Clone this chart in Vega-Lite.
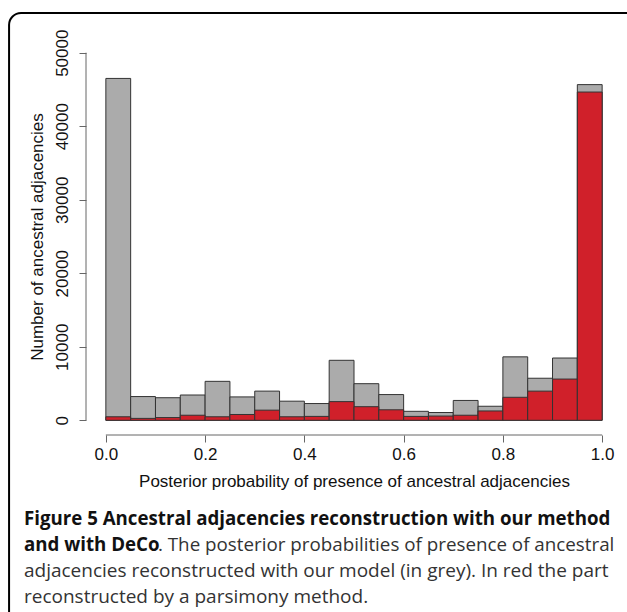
{
  "$schema": "https://vega.github.io/schema/vega-lite/v6.json",
  "autosize": "none",
  "padding": {"left": 86, "top": 38, "right": 5, "bottom": 177},
  "width": 536,
  "height": 397,
  "background": "white",
  "config": {
    "view": {"stroke": null},
    "axis": {
      "grid": false,
      "domain": false,
      "tickColor": "#666666",
      "tickSize": 7,
      "labelFont": "Liberation Sans",
      "labelFontSize": 17,
      "labelColor": "#111111",
      "titleFont": "Liberation Sans",
      "titleFontSize": 17,
      "titleFontWeight": "normal",
      "titleColor": "#111111"
    }
  },
  "datasets": {
    "bins": [
      {"start": 0.00, "end": 0.05, "total": 46500, "parsimony": 480},
      {"start": 0.05, "end": 0.10, "total": 3230, "parsimony": 260},
      {"start": 0.10, "end": 0.15, "total": 3070, "parsimony": 370},
      {"start": 0.15, "end": 0.20, "total": 3440, "parsimony": 690},
      {"start": 0.20, "end": 0.25, "total": 5300, "parsimony": 480},
      {"start": 0.25, "end": 0.30, "total": 3180, "parsimony": 790},
      {"start": 0.30, "end": 0.35, "total": 3970, "parsimony": 1380},
      {"start": 0.35, "end": 0.40, "total": 2600, "parsimony": 480},
      {"start": 0.40, "end": 0.45, "total": 2280, "parsimony": 530},
      {"start": 0.45, "end": 0.50, "total": 8160, "parsimony": 2540},
      {"start": 0.50, "end": 0.55, "total": 4980, "parsimony": 1850},
      {"start": 0.55, "end": 0.60, "total": 3500, "parsimony": 1430},
      {"start": 0.60, "end": 0.65, "total": 1220, "parsimony": 530},
      {"start": 0.65, "end": 0.70, "total": 1060, "parsimony": 580},
      {"start": 0.70, "end": 0.75, "total": 2700, "parsimony": 690},
      {"start": 0.75, "end": 0.80, "total": 1910, "parsimony": 1270},
      {"start": 0.80, "end": 0.85, "total": 8630, "parsimony": 3130},
      {"start": 0.85, "end": 0.90, "total": 5720, "parsimony": 3970},
      {"start": 0.90, "end": 0.95, "total": 8470, "parsimony": 5610},
      {"start": 0.95, "end": 1.00, "total": 45660, "parsimony": 44650}
    ]
  },
  "layer": [
    {
      "data": {"name": "bins"},
      "mark": {"type": "bar", "fill": "#ababab", "stroke": "#333333", "strokeWidth": 1},
      "encoding": {
        "x": {
          "field": "start", "type": "quantitative",
          "scale": {"domain": [-0.04, 1.04], "nice": false, "zero": false},
          "axis": {
            "values": [0, 0.2, 0.4, 0.6, 0.8, 1.0],
            "format": ".1f",
            "labelPadding": 4,
            "title": "Posterior probability of presence of ancestral adjacencies",
            "titlePadding": 11
          }
        },
        "x2": {"field": "end"},
        "y": {
          "field": "total", "type": "quantitative",
          "scale": {"domain": [-2000, 52000], "nice": false, "zero": false},
          "axis": {
            "values": [0, 10000, 20000, 30000, 40000, 50000],
            "format": "d",
            "labelAngle": -90,
            "labelAlign": "center",
            "labelBaseline": "bottom",
            "labelPadding": 8,
            "title": "Number of ancestral adjacencies",
            "titlePadding": 7
          }
        },
        "y2": {"datum": 0}
      }
    },
    {
      "data": {"name": "bins"},
      "mark": {"type": "bar", "fill": "#d0202a", "stroke": "#333333", "strokeWidth": 1},
      "encoding": {
        "x": {"field": "start", "type": "quantitative"},
        "x2": {"field": "end"},
        "y": {"field": "parsimony", "type": "quantitative"},
        "y2": {"datum": 0}
      }
    },
    {
      "data": {"values": [{"axis": "x"}]},
      "mark": {"type": "rule", "color": "#666666", "strokeWidth": 1},
      "encoding": {
        "x": {"datum": 0},
        "x2": {"datum": 1},
        "y": {"datum": -2000}
      }
    },
    {
      "data": {"values": [{"axis": "y"}]},
      "mark": {"type": "rule", "color": "#666666", "strokeWidth": 1},
      "encoding": {
        "x": {"datum": -0.04},
        "y": {"datum": 0},
        "y2": {"datum": 50000}
      }
    },
    {
      "data": {"values": [{"text": "Figure 5 Ancestral adjacencies reconstruction with our method\nand with DeCo"}]},
      "mark": {"type": "text", "align": "left", "baseline": "alphabetic", "font": "Open Sans", "fontSize": 18.7, "fontWeight": "bold", "color": "#111111", "lineBreak": "\n", "lineHeight": 26},
      "encoding": {
        "x": {"datum": -0.165},
        "y": {"datum": -14250},
        "text": {"field": "text"}
      }
    },
    {
      "data": {"values": [{"text": ". The posterior probabilities of presence of ancestral"}]},
      "mark": {"type": "text", "align": "left", "baseline": "alphabetic", "font": "Open Sans", "fontSize": 18.8, "color": "#333333", "dx": 134},
      "encoding": {
        "x": {"datum": -0.165},
        "y": {"datum": -17800},
        "text": {"field": "text"}
      }
    },
    {
      "data": {"values": [{"text": "adjacencies reconstructed with our model (in grey). In red the part\nreconstructed by a parsimony method."}]},
      "mark": {"type": "text", "align": "left", "baseline": "alphabetic", "font": "Open Sans", "fontSize": 19, "color": "#333333", "lineBreak": "\n", "lineHeight": 26},
      "encoding": {
        "x": {"datum": -0.165},
        "y": {"datum": -21350},
        "text": {"field": "text"}
      }
    },
    {
      "data": {"values": [{"frame": "border"}]},
      "mark": {"type": "rect", "filled": false, "stroke": "#000000", "strokeWidth": 2, "cornerRadius": 12},
      "encoding": {
        "x": {"datum": -0.195},
        "x2": {"datum": 1.1},
        "y": {"datum": 55400},
        "y2": {"datum": -29000}
      }
    }
  ]
}
